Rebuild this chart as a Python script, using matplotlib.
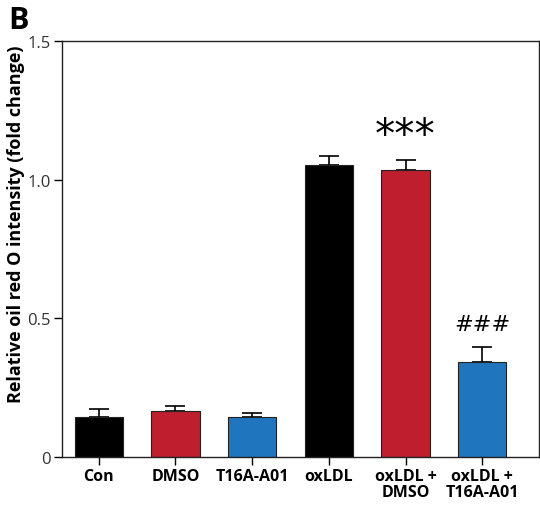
import matplotlib
matplotlib.use("Agg")
import matplotlib.pyplot as plt

categories = ["Con", "DMSO", "T16A-A01", "oxLDL", "oxLDL +\nDMSO", "oxLDL +\nT16A-A01"]
values = [0.144, 0.167, 0.143, 1.054, 1.034, 0.344]
errors = [0.029, 0.016, 0.017, 0.031, 0.037, 0.052]
colors = ["#000000", "#BE1E2D", "#1F75BE", "#000000", "#BE1E2D", "#1F75BE"]
annotations = {4: "***", 5: "###"}
annot_sizes = {4: 29, 5: 16}
annot_offsets = {4: 0.085, 5: 0.085}
yticks = [0, 0.5, 1.0, 1.5]
ytick_labels = ["0", "0.5", "1.0", "1.5"]

plt.rcParams['font.family'] = ['Open Sans', 'DejaVu Sans']

fig = plt.figure(figsize=(5.4, 5.06), dpi=100)
ax = fig.add_axes([62/540, 48/506, (539-62)/540, (458-42)/506])

x = list(range(len(categories)))
ax.bar(x, values, width=0.63, color=colors, edgecolor="#222222", linewidth=0.8, zorder=2)
ax.errorbar(x, values, yerr=[[0]*len(errors), errors], fmt="none", ecolor="black",
            elinewidth=1.2, capsize=7, capthick=1.2, zorder=1)

for i, txt in annotations.items():
    ax.text(i, values[i] + errors[i] + annot_offsets[i], txt, ha="center", va="center",
            fontsize=annot_sizes[i], family="DejaVu Sans")

ax.set_ylim(0, 1.5)
ax.set_xlim(-0.48, 5.74)
ax.set_yticks(yticks)
ax.set_yticklabels(ytick_labels, fontsize=12, color="#333333")
ax.set_xticks(x)
ax.set_xticklabels(categories, fontsize=11.5, fontweight="bold", linespacing=1.0)
ax.tick_params(axis="both", direction="out", length=6, width=1)
ax.tick_params(axis="x", pad=2)
ax.tick_params(axis="y", pad=2)
for s in ax.spines.values():
    s.set_linewidth(1.0)
    s.set_color("#222222")

fig.text(16/540, 1 - 224/506, "Relative oil red O intensity (fold change)", rotation=90,
         fontsize=13, fontweight="bold", ha="center", va="center")
fig.text(8/540, 1 - 21/506, "B", fontsize=22, fontweight="bold", va="center", ha="left")

fig.savefig("out.png", dpi=100)
